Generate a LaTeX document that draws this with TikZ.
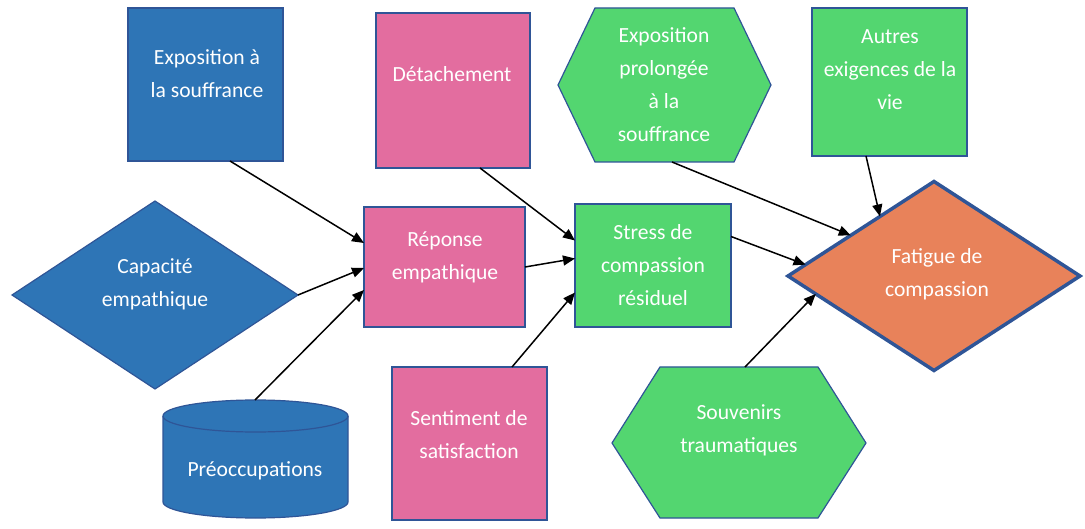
\documentclass[tikz,border=0pt]{standalone}
\usepackage{fontspec}
\setmainfont{Carlito}
\usetikzlibrary{arrows.meta,shapes.geometric,calc}
\definecolor{cblue}{HTML}{2E75B6}
\definecolor{cpink}{HTML}{E36D9F}
\definecolor{cgreen}{HTML}{53D670}
\definecolor{corange}{HTML}{E8825A}
\definecolor{bordc}{HTML}{2F5597}
\tikzset{
  shp/.style={draw=bordc, line width=1.2pt, outer sep=0pt, inner sep=0pt},
  bluebox/.style={shp, rectangle, fill=cblue},
  pinkbox/.style={shp, rectangle, fill=cpink},
  greenbox/.style={shp, rectangle, fill=cgreen},
  txt/.style={text=white, align=center, inner sep=0pt, font=\fontsize{21.6}{33}\selectfont},
  arr/.style={-{Triangle[length=12pt,width=10pt]}, line width=1.5pt, black}
}
\begin{document}
\begin{tikzpicture}[x=1pt,y=-1pt]
\fill[white] (0,0) rectangle (1085,529);
\useasboundingbox (0,0) rectangle (1085,529);

% rectangles
\node[bluebox, minimum width=155pt, minimum height=153pt] (expo) at (205.5,84.5) {};
\node[pinkbox, minimum width=154pt, minimum height=155pt] (det) at (453,90.5) {};
\node[greenbox, minimum width=155pt, minimum height=148pt] (autres) at (889.5,82) {};
\node[pinkbox, minimum width=161pt, minimum height=120pt] (resp) at (444.5,267) {};
\node[greenbox, minimum width=156pt, minimum height=123pt] (stress) at (653,265.5) {};
\node[pinkbox, minimum width=155pt, minimum height=153pt] (sent) at (469.5,443.5) {};

% diamonds
\node[shp, diamond, fill=cblue, minimum width=286pt, minimum height=188pt] (cap) at (155,295) {};
\node[shp, diamond, fill=corange, draw=bordc, line width=3.5pt, minimum width=292pt, minimum height=189pt] (fat) at (934,276) {};

% hexagons
\draw[shp, fill=cgreen] (558,85) -- (595,8) -- (734,8) -- (771,85) -- (734,162) -- (595,162) -- cycle;
\coordinate (prolS) at (672,162);
\draw[shp, fill=cgreen] (612,443) -- (660,367) -- (818,367) -- (866,443) -- (818,518) -- (660,518) -- cycle;
\coordinate (souvN) at (745,367);

% cylinder
\draw[shp, fill=cblue] (163,416) -- (163,502) arc[start angle=180, end angle=360, x radius=92.5pt, y radius=16pt]
  -- (348,416) arc[start angle=0, end angle=180, x radius=92.5pt, y radius=16pt] -- cycle;
\draw[shp] (163,416) arc[start angle=180, end angle=360, x radius=92.5pt, y radius=16pt];
\coordinate (preoN) at (255,400);

% texts
\node[txt] (expoT) at (207,73.5) {Exposition à\\la souffrance};
\node[txt] (detT) at (452,74) {Détachement};
\node[txt] (prol) at (664,85) {Exposition\\prolongée\\à la\\souffrance};
\node[txt] (autresT) at (890,70) {Autres\\exigences de la\\vie};
\node[txt] (capT) at (155,284) {Capacité\\empathique};
\node[txt] (respT) at (445,257) {Réponse\\empathique};
\node[txt] (stressT) at (653,265) {Stress de\\compassion\\résiduel};
\node[txt] (fatT) at (937,274.5) {Fatigue de\\compassion};
\node[txt] (preo) at (255,471) {Préoccupations};
\node[txt] (sentT) at (469,435) {Sentiment de\\satisfaction};
\node[txt] (souv) at (739,430) {Souvenirs\\traumatiques};

% connectors
\draw[arr] ([xshift=24.5pt]expo.south) -- ([yshift=24pt]resp.west);
\draw[arr] (cap.east) -- ([yshift=-1pt]resp.west);
\draw[arr] (preoN) -- ([yshift=-23pt]resp.west);
\draw[arr] ([xshift=27pt]det.south) -- ([yshift=25pt]stress.west);
\draw[arr] (resp.east) -- ([yshift=7pt]stress.west);
\draw[arr] ([xshift=42.5pt]sent.north) -- ([yshift=-27pt]stress.west);
\draw[arr] ([yshift=29pt]stress.east) -- ($(fat.west)!0.12!(fat.north)$);
\draw[arr] (prolS) -- ($(fat.west)!0.43!(fat.north)$);
\draw[arr] ([xshift=-23.5pt]autres.south) -- ($(fat.west)!0.63!(fat.north)$);
\draw[arr] (souvN) -- ($(fat.west)!0.19!(fat.south)$);
\end{tikzpicture}
\end{document}
